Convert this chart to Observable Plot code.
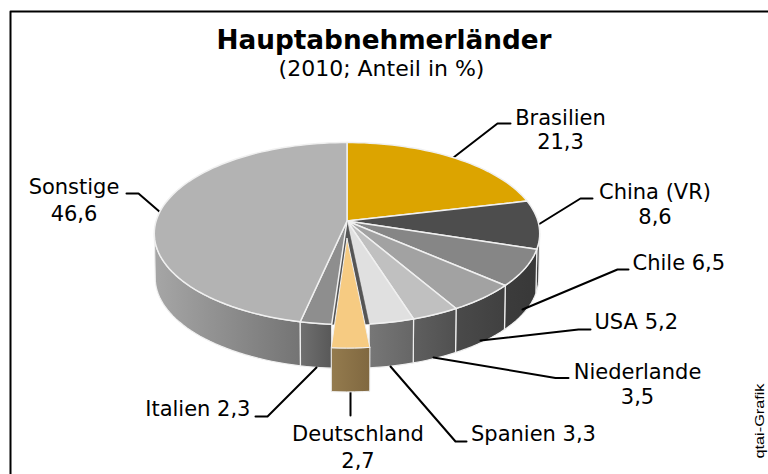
<!DOCTYPE html>
<html><head><meta charset="utf-8">
<script src="https://cdn.jsdelivr.net/npm/d3@7"></script>
<script src="https://cdn.jsdelivr.net/npm/@observablehq/plot@0.6"></script>
<style>html,body{margin:0;padding:0;background:#fff;overflow:hidden}svg{display:block}</style>
</head><body><div id="chart"></div>
<script>
const categories = ["Brasilien","China (VR)","Chile","USA","Niederlande","Spanien","Deutschland","Italien","Sonstige"];
const shares = [21.3,8.6,6.5,5.2,3.5,3.3,2.7,2.3,46.6];
const topColors = ["#dca400","#4d4d4d","#868686","#a2a2a2","#c0c0c0","#e0e0e0","#f6cb82","#8e8e8e","#b3b3b3"];
const wallColors = [["#555","#444"],["#4a4a4a","#3c3c3c"],["#3c3c3c","#383838"],["#4a4a4a","#404040"],["#5f5f5f","#505050"],["#777777","#666666"],["#947b4e","#806840"],["#707070","#585858"],["#a6a6a6","#747474"]];
const explodedName = "Deutschland";
const title = "Hauptabnehmerländer";
const subtitle = "(2010; Anteil in %)";
const credit = "qtai-Grafik";
const labelLayout = {
  "Brasilien":  {x:560,y:[124,148],split:true,anchor:"middle",from:[453,157],elbow:[[497,123],[510,123]]},
  "China (VR)": {x:654.5,y:[198,223],split:true,anchor:"middle",from:[538,224],elbow:[[580,198],[592,198]]},
  "Chile":      {x:632,y:[269.5],split:false,anchor:"start",from:[522,309],elbow:[[617,269],[628,269]]},
  "USA":        {x:594,y:[328],split:false,anchor:"start",from:[480,340],elbow:[[578,329],[590,329]]},
  "Niederlande":{x:637,y:[378,403.5],split:true,anchor:"middle",from:[433,357],elbow:[[555,377.5],[568,377.5]]},
  "Spanien":    {x:470.5,y:[440.5],split:false,anchor:"start",from:[390,366],elbow:[[455,441],[466,441]]},
  "Deutschland":{x:357.5,y:[440.5,467],split:true,anchor:"middle",from:[350,392],elbow:[[350,415]]},
  "Italien":    {x:250,y:[415.5],split:false,anchor:"end",from:[316,367],elbow:[[267,416],[255,416]]},
  "Sonstige":   {x:73.5,y:[193,220],split:true,anchor:"middle",from:[160,212],elbow:[[138,193],[126,193]]}
};

const fmt = v => String(v).replace(".", ",");
const rad = Math.PI/180;
const persp = 0.1374;
function disc(deg, r, dv, D, s) {
  const u = Math.sin(deg*rad)*r, v = -Math.cos(deg*rad)*r + dv;
  const k = 1 - persp*v;
  return {x: 346.5 + 190.9*s*u/k, y: 220.5 + D + 89.3*s*v/k};
}
const top_ = (d,dv=0)=>disc(d,1,dv,0,1);
const bot_ = (d,dv=0)=>disc(d,1,dv,44.5,0.995);
const arc = (a,b,f,dv)=>{const n=Math.max(2,Math.ceil(Math.abs(b-a)/2));return d3.range(n+1).map(i=>f(a+(b-a)*i/n,dv));};
const poly = (pts,opts)=>Plot.line([...pts,pts[0]],{x:"x",y:"y",curve:"linear",strokeLinejoin:"round",...opts});

let cum=0;
const slices = categories.map((name,i)=>{const a=cum*3.6;cum+=shares[i];return {name,i,a,b:cum*3.6};});
const marks = [];
const defs = () => {
  const s = d3.create("svg:defs");
  wallColors.forEach((c,i)=>{
    const g = s.append("linearGradient").attr("id","w"+i);
    g.append("stop").attr("offset","0").attr("stop-color",c[0]);
    g.append("stop").attr("offset","1").attr("stop-color",c[1]);
  });
  return s.node();
};
marks.push(defs);
marks.push(Plot.line([{x:10,y:480},{x:10,y:11},{x:770,y:11}],{x:"x",y:"y",stroke:"#000",strokeWidth:2}));
const order = [1,8,2,3,4,5,7];
for (const i of order) {
  const sl = slices[i];
  const a = Math.max(sl.a,97.9), b = Math.min(sl.b,262.1);
  if (a>=b) continue;
  const pts = [...arc(a,b,top_,0), ...arc(b,a,bot_,0)];
  marks.push(poly(pts,{fill:`url(#w${i})`,stroke:"#f0f0f0",strokeWidth:1.2}));
}
for (const sl of slices) {
  const L = labelLayout[sl.name];
  const pts=[L.from,...L.elbow].map(p=>({x:p[0],y:p[1]}));
  marks.push(Plot.line(pts,{x:"x",y:"y",stroke:"#000",strokeWidth:2}));
}
for (const sl of slices) {
  const exploded = sl.name===explodedName;
  const pts = [disc(0,0,0,0,1), ...arc(sl.a,sl.b,top_,0)];
  marks.push(poly(pts,{fill: exploded?"#555":topColors[sl.i],stroke: exploded?"#555":"#f0f0f0",strokeWidth:exploded?0.5:1.5}));
}
{
  const sl = slices.find(s=>s.name===explodedName), dv=0.19;
  const wall=[...arc(sl.a,sl.b,top_,dv),...arc(sl.b,sl.a,bot_,dv)];
  marks.push(poly(wall,{fill:`url(#w${sl.i})`,stroke:"#f0f0f0",strokeWidth:1}));
  const pts=[disc(0,0,dv,0,1),...arc(sl.a,sl.b,top_,dv)];
  marks.push(poly(pts,{fill:topColors[sl.i],stroke:"#f0f0f0",strokeWidth:1}));
}
const font = "'DejaVu Sans', Verdana, sans-serif";
const labelRows = slices.flatMap(sl=>{
  const L=labelLayout[sl.name], v=fmt(shares[sl.i]);
  return L.split ? [{t:sl.name,x:L.x,y:L.y[0],a:L.anchor},{t:v,x:L.x,y:L.y[1],a:L.anchor}]
                 : [{t:`${sl.name} ${v}`,x:L.x,y:L.y[0],a:L.anchor}];
});
for (const anchor of ["start","middle","end"]) {
  marks.push(Plot.text(labelRows.filter(r=>r.a===anchor),{x:"x",y:"y",text:"t",textAnchor:anchor,lineAnchor:"bottom",fontSize:21,fill:"#000",fontFamily:font}));
}
marks.push(Plot.text([{t:title,x:383.5,y:48}],{x:"x",y:"y",text:"t",lineAnchor:"bottom",fontSize:26.3,fontWeight:"bold",fill:"#000",fontFamily:font}));
marks.push(Plot.text([{t:subtitle,x:381,y:75}],{x:"x",y:"y",text:"t",lineAnchor:"bottom",fontSize:22,fill:"#000",fontFamily:font}));
marks.push(Plot.text([{t:credit,x:763,y:420.5}],{x:"x",y:"y",text:"t",lineAnchor:"bottom",fontSize:13,rotate:-90,fill:"#000",fontFamily:"'Liberation Sans',Arial,sans-serif"}));

const plot = Plot.plot({width:768,height:474,margin:0,
  x:{domain:[0,768],range:[0,768],axis:null},
  y:{domain:[0,474],range:[0,474],axis:null},
  style:{background:"#fff"},marks});
d3.select(plot).selectAll("text").filter(function(){return this.textContent===credit;})
  .attr("textLength",75).attr("lengthAdjust","spacingAndGlyphs");
document.getElementById("chart").append(plot);
</script></body></html>
